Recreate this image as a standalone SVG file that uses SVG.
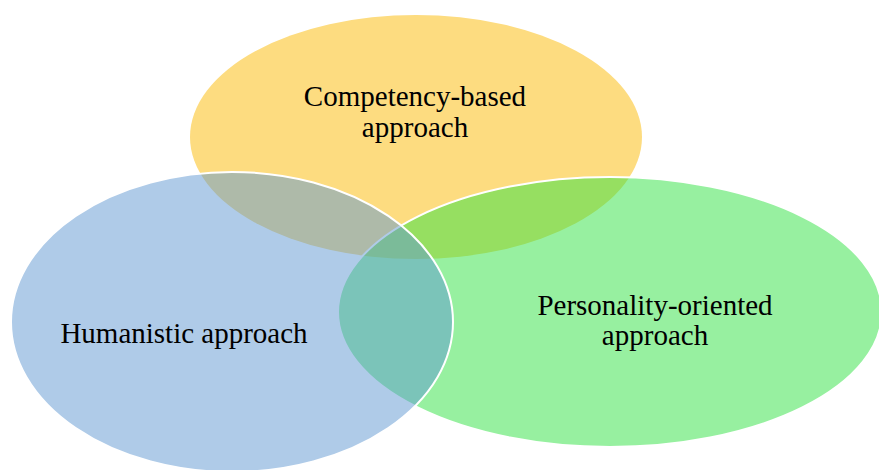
<svg xmlns="http://www.w3.org/2000/svg" width="879" height="470" viewBox="0 0 879 470">
<style>
.c{stroke:#fff;stroke-width:2;fill-opacity:0.5}
text{font-family:'Liberation Serif','Times New Roman',serif;font-size:29px;fill:#000;text-anchor:middle}
</style>
<rect width="879" height="470" fill="#fff"/>
<g id="competency">
<ellipse cx="416" cy="137" rx="226" ry="122" fill="#FDDC80" stroke="none"/>
<text x="415" y="106">Competency-based</text>
<text x="415" y="137">approach</text>
</g>
<g id="personality">
<ellipse class="c" cx="610" cy="312" rx="272" ry="135" fill="#2FE141"/>
</g>
<g id="humanistic">
<ellipse class="c" cx="232" cy="322" rx="221" ry="150" fill="#5F97D1"/>
</g>
<text x="184" y="343">Humanistic approach</text>
<text x="655" y="315">Personality-oriented</text>
<text x="655" y="345">approach</text>
</svg>
